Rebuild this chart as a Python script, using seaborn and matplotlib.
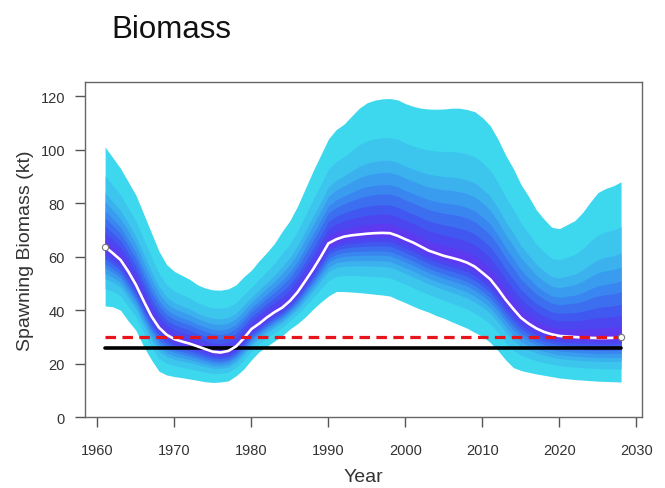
import numpy as np
import pandas as pd
import matplotlib
matplotlib.use("Agg")
import matplotlib.pyplot as plt
import seaborn as sns
from matplotlib import font_manager

years = list(range(1961, 2029))

upper = [101, 97, 93, 88, 83, 76, 69, 62, 57, 54.5,
         53, 51.5, 49.5, 48.3, 47.6, 47.5, 48, 49.5, 52.5, 55,
         58.5, 61.6, 65, 69.5, 73.5, 79, 85.5, 92, 98, 104,
         107.5, 109.5, 112.5, 115.5, 117.5, 118.5, 119, 119.1, 118.6, 117.2,
         116.2, 115.5, 115.2, 115.1, 115.2, 115.5, 115.5, 115, 114.2, 112,
         109, 104, 98, 93, 87, 82.5, 77.5, 74, 71, 70.5,
         72, 73.5, 76.5, 80.4, 84, 85.5, 86.5, 88]

lower = [41.6, 41.3, 40, 36, 32.5, 26.5, 21.5, 17.2, 15.8, 15.2,
         14.8, 14.3, 13.8, 13.3, 13, 13.2, 13.6, 15.5, 18, 21.5,
         24.5, 26.5, 28.5, 30.5, 33, 35, 37.5, 40.4, 43, 45.3,
         47, 47, 46.8, 46.6, 46.3, 46, 45.7, 45.3, 44, 42.8,
         41.5, 40.3, 39.3, 38, 37, 35.7, 34.5, 33.3, 31.7, 30.2,
         28, 25, 21.5, 18.6, 17.5, 16.8, 16.2, 15.7, 15.2, 14.7,
         14.4, 14.1, 13.9, 13.7, 13.5, 13.4, 13.3, 13.2]

median = [63.7, 61.3, 58.8, 54.5, 49.5, 43.5, 37.8, 33.5, 30.8, 29.2,
          28.3, 27.5, 26.5, 25.5, 24.5, 24.2, 24.8, 26.5, 29.5, 33,
          35, 37.3, 39.3, 41, 43.5, 46.8, 51, 55.3, 60, 65,
          66.5, 67.5, 68, 68.3, 68.6, 68.8, 68.9, 68.8, 67.8, 66.5,
          65.3, 63.8, 62.3, 61.3, 60.3, 59.6, 58.8, 57.8, 56.3, 54,
          51.6, 48, 44, 40.5, 37.2, 35, 33.2, 31.9, 31, 30.4,
          30.2, 30, 29.8, 29.7, 29.6, 29.6, 29.7, 30]

# relative position of each band edge between the median and the outer envelope
band_fracs = [1.0, 0.71, 0.54, 0.45, 0.36, 0.29, 0.21, 0.14, 0.07]
band_colors = ["#3dd8ee", "#3cc6ee", "#3bb2ee", "#3a9cef", "#3a86f0",
               "#3c6ef0", "#4158f0", "#4c46f0", "#5c3af0"]

ref_red = 30.0
ref_black = 26.0

df = pd.DataFrame({"Year": years, "upper": upper, "lower": lower, "median": median})

sns.set_style("white")
avail = {f.name for f in font_manager.fontManager.ttflist}
base_font = "Liberation Sans" if "Liberation Sans" in avail else "DejaVu Sans"
plt.rcParams["font.family"] = [base_font, "DejaVu Sans"]

fig = plt.figure(figsize=(6.65, 4.89), dpi=100)
ax = fig.add_axes([84.5 / 665, 1 - 418.3 / 489, (641.7 - 84.5) / 665, (418.3 - 82.7) / 489])

med = df["median"].to_numpy()
up = df["upper"].to_numpy()
lo = df["lower"].to_numpy()
for frac, col in zip(band_fracs, band_colors):
    ax.fill_between(df["Year"], med - frac * (med - lo), med + frac * (up - med),
                    color=col, linewidth=0, zorder=1)
# innermost purple core
ax.fill_between(df["Year"], med - 0.03 * (med - lo), med + 0.03 * (up - med),
                color="#6434f0", linewidth=0, zorder=1)

sns.lineplot(x=[years[0], years[-1]], y=[ref_black, ref_black], ax=ax,
             color="black", linewidth=2.6, zorder=3)
sns.lineplot(data=df, x="Year", y="median", ax=ax, color="white",
             linewidth=1.9, zorder=4)
ax.plot([years[0], years[-1]], [median[0], median[-1]], linestyle="none",
        marker="o", markersize=4.5, markerfacecolor="white",
        markeredgecolor="#777777", markeredgewidth=0.8, zorder=6)
ax.plot([years[0], years[-1]], [ref_red, ref_red], color="#e8141c",
        linewidth=2.3, linestyle=(0, (3.3, 2.0)), zorder=5)

ax.set_xlim(1958.32, 2030.68)
ax.set_ylim(0, 125.4)
ax.set_xticks(range(1960, 2031, 10))
ax.set_yticks(range(0, 121, 20))

for s in ax.spines.values():
    s.set_color("#666666")
    s.set_linewidth(1.0)

ax.tick_params(axis="both", direction="out", length=7, width=1.0,
               color="#555555", labelcolor="#333333", labelsize=10.5,
               bottom=True, left=True, top=False, right=False)
ax.tick_params(axis="x", pad=11.5)
ax.tick_params(axis="y", pad=7)

ax.set_xlabel("Year", fontsize=14, color="#333333")
ax.set_ylabel("Spawning Biomass (kt)", fontsize=14, color="#333333")
ax.xaxis.set_label_coords(0.5, (418.3 - 469) / (418.3 - 82.7))
ax.yaxis.set_label_coords((34 - 84.5) / (641.7 - 84.5), 0.5)

title_font = ["Liberation Sans Narrow", base_font, "DejaVu Sans"]
fig.text(111 / 665, 1 - 38.5 / 489, "Biomass", fontsize=22.5,
         family=title_font, color="#111111", va="baseline", ha="left")

fig.savefig("out.png", dpi=100, facecolor="white")
